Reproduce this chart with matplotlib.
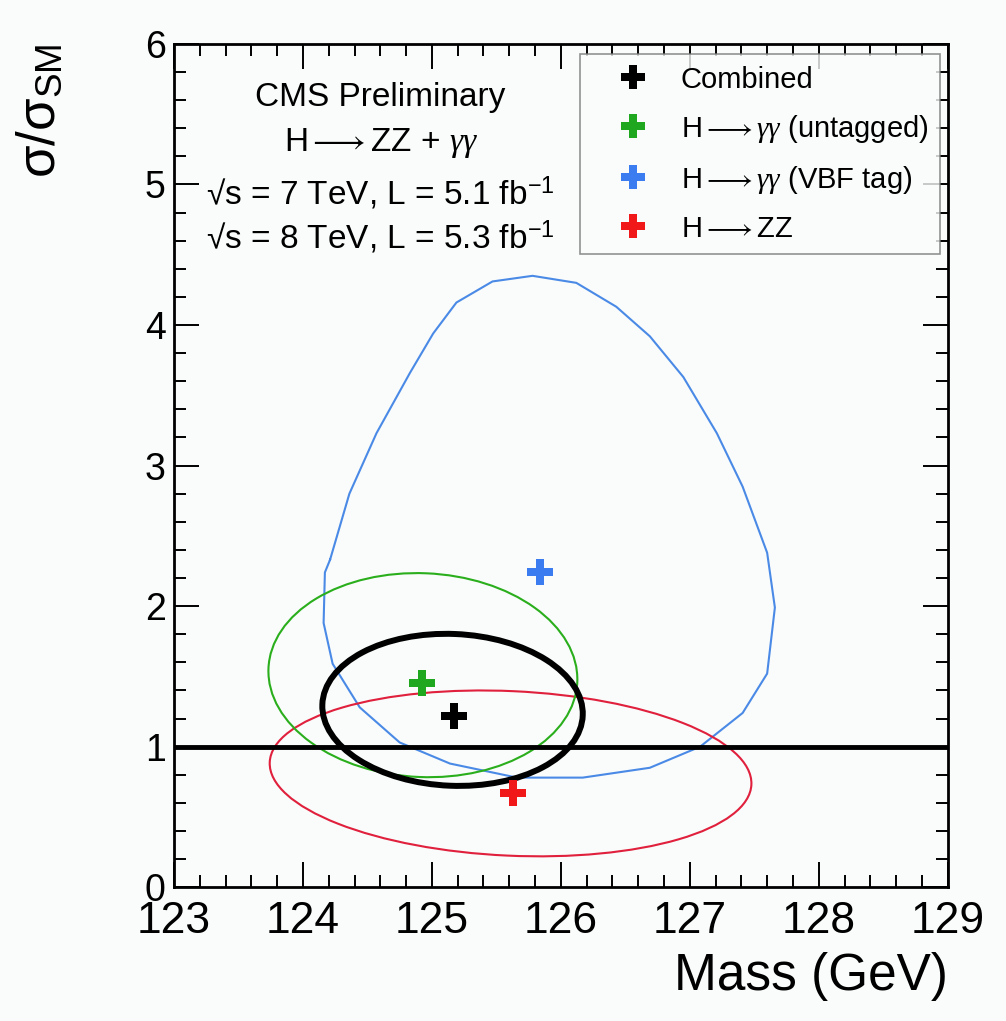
import numpy as np
import matplotlib.pyplot as plt
from matplotlib.patches import Ellipse
from matplotlib.ticker import MultipleLocator

plt.rcParams['font.family'] = ['Liberation Sans', 'DejaVu Sans']
plt.rcParams['mathtext.fontset'] = 'custom'
plt.rcParams['mathtext.rm'] = 'Liberation Sans'
plt.rcParams['mathtext.it'] = 'Liberation Serif:italic'

# best fit points (mass, sigma/sigma_SM)
names = ['Combined', 'H$\\longrightarrow$$\\gamma\\gamma$ (untagged)',
         'H$\\longrightarrow$$\\gamma\\gamma$ (VBF tag)', 'H$\\longrightarrow$ZZ']
best_mass = [125.17, 124.92, 125.84, 125.63]
best_mu = [1.22, 1.45, 2.24, 0.67]
colors = ['black', '#1fa81f', '#3b7cf0', '#f01818']

# 68% CL contours read as ellipses: centre, half-range in mass and mu, correlation
ell_names = ['Combined', 'untagged', 'ZZ']
ell_mass = [125.16, 124.93, 125.61]
ell_mu = [1.262, 1.509, 0.81]
ell_dmass = [1.01, 1.198, 1.868]
ell_dmu = [0.541, 0.726, 0.59]
ell_rho = [-0.05, -0.04, -0.12]
ell_colors = ['black', '#2aae1c', '#e0203c']
ell_lw = [4.3, 1.5, 1.5]

# VBF tag contour (irregular)
vbf_mass = [124.21, 124.36, 124.57, 124.83, 125.01, 125.19, 125.47, 125.78, 126.12,
            126.43, 126.69, 126.95, 127.21, 127.41, 127.60, 127.66, 127.60, 127.41,
            127.08, 126.69, 126.17, 125.66, 125.14, 124.75, 124.44, 124.23, 124.16,
            124.17, 124.21]
vbf_mu = [2.33, 2.80, 3.23, 3.66, 3.94, 4.16, 4.31, 4.35, 4.30,
          4.13, 3.92, 3.63, 3.23, 2.85, 2.38, 1.99, 1.52, 1.24,
          1.00, 0.85, 0.78, 0.78, 0.88, 1.03, 1.28, 1.59, 1.88,
          2.24, 2.33]

bg = '#f9fcfb'
fig = plt.figure(figsize=(10.06, 10.21), dpi=100, facecolor=bg)
ax = fig.add_axes([0.173, 0.131, 0.769, 0.826], facecolor=bg)

ax.plot(vbf_mass, vbf_mu, color='#4a8ae6', lw=1.5, zorder=2, solid_joinstyle='round')

for i in [2, 1, 0]:
    c = np.array([[ell_dmass[i] ** 2, ell_rho[i] * ell_dmass[i] * ell_dmu[i]],
                  [ell_rho[i] * ell_dmass[i] * ell_dmu[i], ell_dmu[i] ** 2]])
    vals, vecs = np.linalg.eigh(c)
    ang = np.degrees(np.arctan2(vecs[1, 1], vecs[0, 1]))
    e = Ellipse((ell_mass[i], ell_mu[i]), 2 * np.sqrt(vals[1]), 2 * np.sqrt(vals[0]),
                angle=ang, fill=False, edgecolor=ell_colors[i], lw=ell_lw[i], zorder=3 + (i == 0))
    ax.add_patch(e)

ax.axhline(1, color='black', lw=3.5, zorder=5)

handles = []
for i in range(4):
    h, = ax.plot(best_mass[i], best_mu[i], marker='P', ms=19, color=colors[i],
                 mew=0, ls='none', zorder=6, label=names[i])
    handles.append(h)

ax.set_xlim(123, 129)
ax.set_ylim(0, 6)
ax.xaxis.set_major_locator(MultipleLocator(1))
ax.xaxis.set_minor_locator(MultipleLocator(0.2))
ax.yaxis.set_major_locator(MultipleLocator(1))
ax.yaxis.set_minor_locator(MultipleLocator(0.2))
ax.tick_params(which='both', direction='in', top=True, right=True, width=1.4)
ax.tick_params(which='major', length=18)
ax.tick_params(which='minor', length=8.5)
ax.tick_params(axis='x', labelsize=32, pad=10)
ax.tick_params(axis='y', labelsize=27, pad=6)
for s in ax.spines.values():
    s.set_linewidth(2)

ax.set_xlabel('Mass (GeV)', fontsize=37, loc='right')
ax.xaxis.set_label_coords(1.0, -0.077)
ax.set_ylabel('σ/σ$_{\\mathregular{SM}}$', fontsize=38, loc='top')
ax.yaxis.set_label_coords(-0.14, 1.0)

lines = ['CMS Preliminary', 'H$\\longrightarrow$ZZ + $\\gamma\\gamma$',
         '√s = 7 TeV, L = 5.1 fb$^{\\mathregular{-1}}$',
         '√s = 8 TeV, L = 5.3 fb$^{\\mathregular{-1}}$']
ys = [0.937, 0.882, 0.823, 0.770]
for t, y in zip(lines, ys):
    ax.text(0.267, y, t, transform=ax.transAxes, ha='center', va='center', fontsize=24)

leg = ax.legend(handles=handles, loc='upper right', bbox_to_anchor=(0.99, 0.988),
                fontsize=21, frameon=True, fancybox=False, edgecolor='#777777',
                borderaxespad=0, handlelength=2.8, handletextpad=0.25,
                labelspacing=0.65, borderpad=0.4, markerscale=0.9)
leg.get_frame().set_linewidth(1.2)
leg.get_frame().set_facecolor(bg)

fig.savefig('out.png', dpi=100, facecolor=bg)
